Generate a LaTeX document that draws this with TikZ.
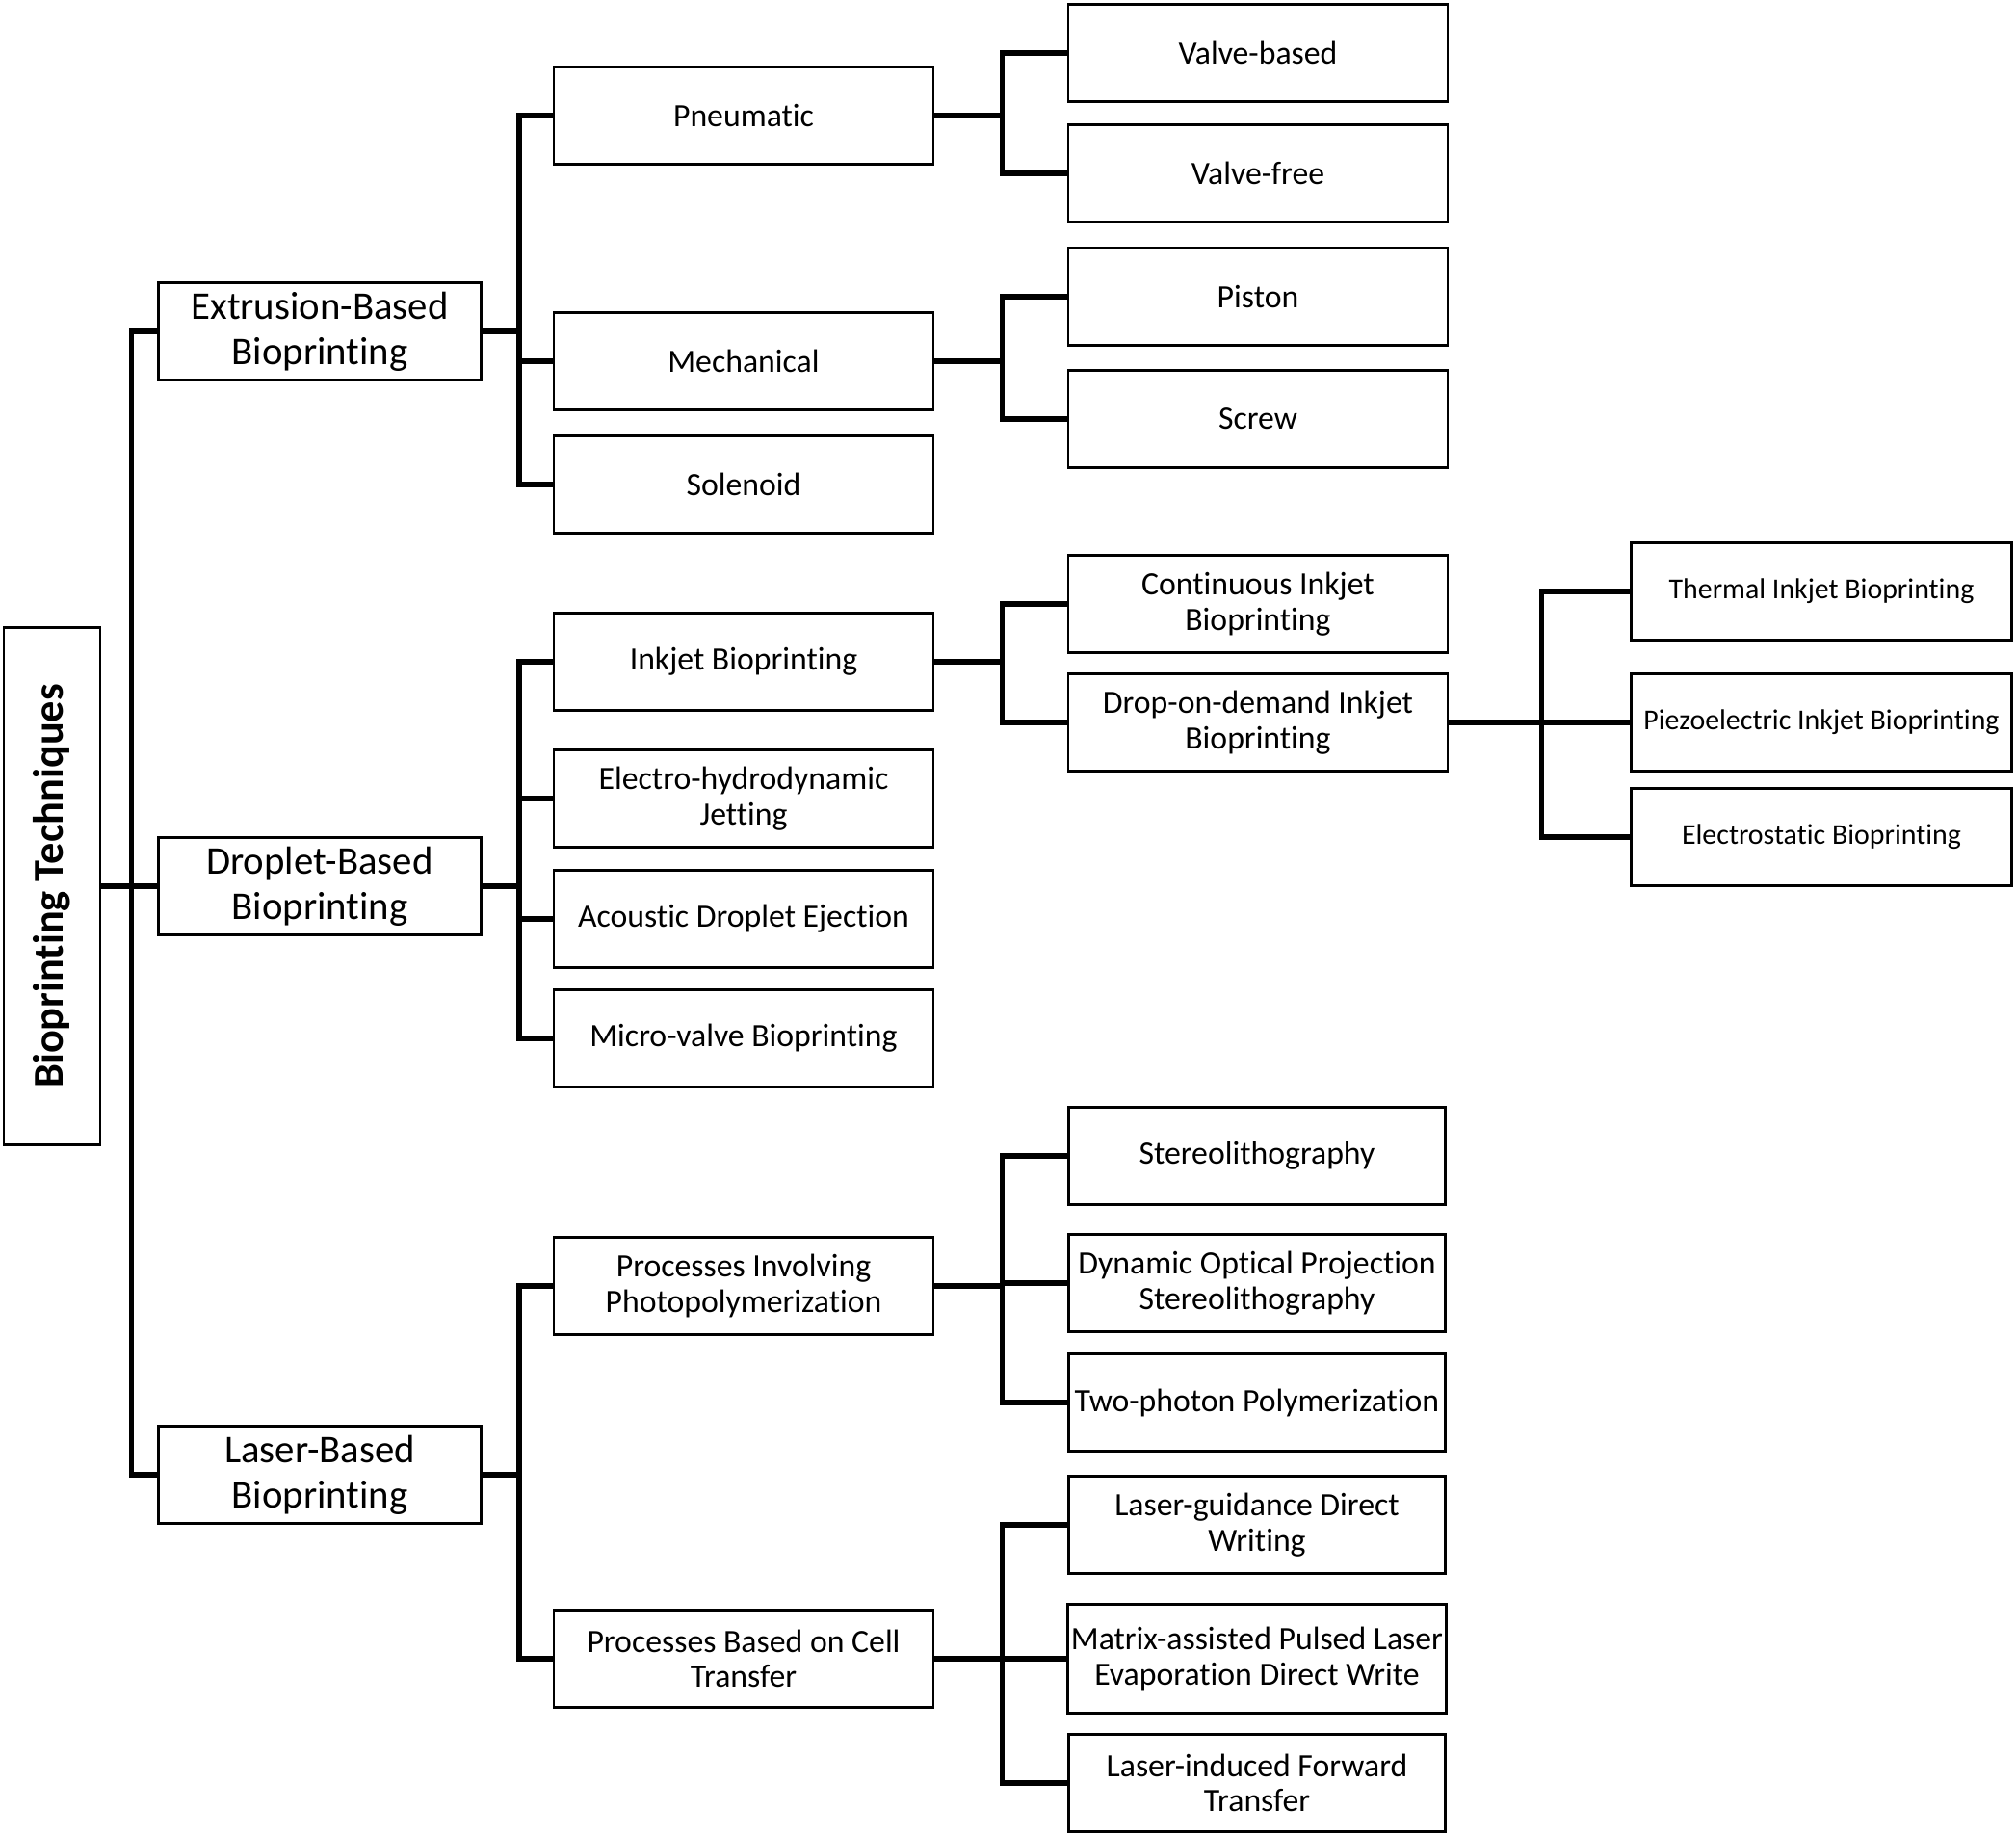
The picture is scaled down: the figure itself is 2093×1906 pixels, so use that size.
\documentclass[tikz,border=0pt]{standalone}
\usepackage{fontspec}
\setmainfont[Ligatures=NoCommon]{Carlito}
\usetikzlibrary{positioning}
\tikzset{
    box/.style={
        draw,
        line width=0.75pt,
        align=center,
        inner sep=1pt,
        minimum height=1.01cm
    },
    lvlone/.style={box, minimum width=3.35cm, font=\fontsize{11.6}{13.4}\selectfont},
    lvltwo/.style={box, minimum width=3.94cm, font=\fontsize{9.6}{10.4}\selectfont},
    lvlfour/.style={box, minimum width=3.95cm, font=\fontsize{8.5}{10}\selectfont},
    conn/.style={line width=1.5pt}
}

\begin{document}
\begin{tikzpicture}[
    x=0.01cm,
    y=-0.01cm
]
    \useasboundingbox (0,0) rectangle (2093,1906);

    % Raiz
    \node[box, rotate=90, minimum width=5.37cm, minimum height=1cm,
          font=\bfseries\fontsize{12.6}{14}\selectfont] (root) at (54,920) {Bioprinting Techniques};

    % Nivel 1
    \node[lvlone] (ext)  at (332,344)  {Extrusion-Based\\Bioprinting};
    \node[lvlone] (drop) at (332,920)  {Droplet-Based\\Bioprinting};
    \node[lvlone] (las)  at (332,1531) {Laser-Based\\Bioprinting};

    % Nivel 2
    \node[lvltwo] (pneu)  at (772,120)  {Pneumatic};
    \node[lvltwo] (mech)  at (772,375)  {Mechanical};
    \node[lvltwo] (sol)   at (772,503)  {Solenoid};
    \node[lvltwo] (ink)   at (772,687)  {Inkjet Bioprinting};
    \node[lvltwo] (ehd)   at (772,829)  {Electro-hydrodynamic\\Jetting};
    \node[lvltwo] (ade)   at (772,954)  {Acoustic Droplet Ejection};
    \node[lvltwo] (mvb)   at (772,1078) {Micro-valve Bioprinting};
    \node[lvltwo] (photo) at (772,1335) {Processes Involving\\Photopolymerization};
    \node[lvltwo] (cell)  at (772,1722) {Processes Based on Cell\\Transfer};

    % Nivel 3
    \node[lvltwo] (vb)    at (1306,55)   {Valve-based};
    \node[lvltwo] (vf)    at (1306,180)  {Valve-free};
    \node[lvltwo] (pis)   at (1306,308)  {Piston};
    \node[lvltwo] (scr)   at (1306,435)  {Screw};
    \node[lvltwo] (cij)   at (1306,627)  {Continuous Inkjet\\Bioprinting};
    \node[lvltwo] (dod)   at (1306,750)  {Drop-on-demand Inkjet\\Bioprinting};
    \node[lvltwo, minimum width=3.91cm] (sla)  at (1305,1200) {Stereolithography};
    \node[lvltwo, minimum width=3.91cm] (dops) at (1305,1332) {Dynamic Optical Projection\\Stereolithography};
    \node[lvltwo, minimum width=3.91cm] (tpp)  at (1305,1456) {Two-photon Polymerization};
    \node[lvltwo, minimum width=3.91cm] (lgdw) at (1305,1583) {Laser-guidance Direct\\Writing};
    \node[lvltwo, minimum width=3.91cm, minimum height=1.13cm] (maple) at (1305,1722) {Matrix-assisted Pulsed Laser\\Evaporation Direct Write};
    \node[lvltwo, minimum width=3.91cm] (lift) at (1305,1851) {Laser-induced Forward\\Transfer};

    % Nivel 4
    \node[lvlfour] (tij) at (1891,614) {Thermal Inkjet Bioprinting};
    \node[lvlfour] (pij) at (1891,750) {Piezoelectric Inkjet Bioprinting};
    \node[lvlfour] (esb) at (1891,869) {Electrostatic Bioprinting};

    % Conexiones
    \foreach \c in {ext,drop,las}
        \draw[conn] (root.south) -- ++(31,0) |- (\c.west);
    \foreach \c in {pneu,mech,sol}
        \draw[conn] (ext.east) -- ++(38,0) |- (\c.west);
    \foreach \c in {ink,ehd,ade,mvb}
        \draw[conn] (drop.east) -- ++(38,0) |- (\c.west);
    \foreach \c in {photo,cell}
        \draw[conn] (las.east) -- ++(38,0) |- (\c.west);
    \foreach \c in {vb,vf}
        \draw[conn] (pneu.east) -- ++(70,0) |- (\c.west);
    \foreach \c in {pis,scr}
        \draw[conn] (mech.east) -- ++(70,0) |- (\c.west);
    \foreach \c in {cij,dod}
        \draw[conn] (ink.east) -- ++(70,0) |- (\c.west);
    \foreach \c in {sla,dops,tpp}
        \draw[conn] (photo.east) -- ++(70,0) |- (\c.west);
    \foreach \c in {lgdw,maple,lift}
        \draw[conn] (cell.east) -- ++(70,0) |- (\c.west);
    \foreach \c in {tij,pij,esb}
        \draw[conn] (dod.east) -- ++(96,0) |- (\c.west);

\end{tikzpicture}
\end{document}
